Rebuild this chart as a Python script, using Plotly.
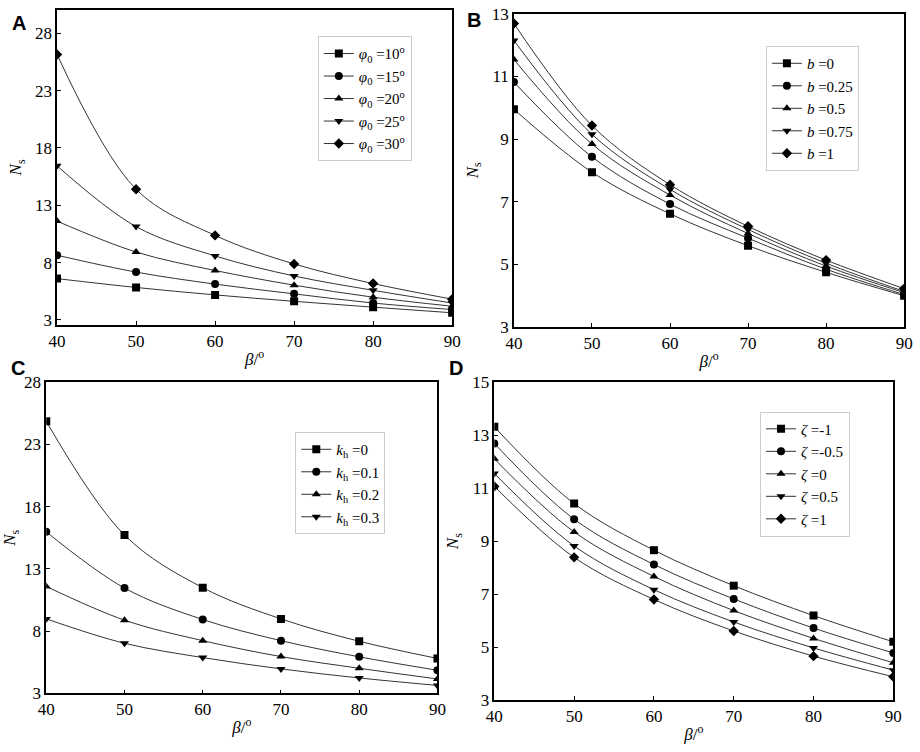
import plotly.graph_objects as go

beta = [40, 50, 60, 70, 80, 90]

# painel A - phi0
phi_labels = ["10", "15", "20", "25", "30"]
phi_10 = [6.60, 5.83, 5.18, 4.62, 4.11, 3.62]
phi_15 = [8.64, 7.17, 6.12, 5.27, 4.47, 3.90]
phi_20 = [11.62, 8.92, 7.31, 6.03, 4.98, 4.19]
phi_25 = [16.44, 11.14, 8.58, 6.83, 5.58, 4.47]
phi_30 = [26.16, 14.40, 10.37, 7.88, 6.17, 4.81]

# painel B - b
b_labels = ["0", "0.25", "0.5", "0.75", "1"]
b_0 = [9.95, 7.94, 6.61, 5.59, 4.74, 3.99]
b_025 = [10.82, 8.43, 6.92, 5.83, 4.84, 4.03]
b_05 = [11.54, 8.84, 7.21, 5.98, 4.94, 4.09]
b_075 = [12.15, 9.15, 7.39, 6.11, 5.03, 4.13]
b_1 = [12.69, 9.43, 7.54, 6.21, 5.13, 4.22]

# painel C - kh
kh_labels = ["0", "0.1", "0.2", "0.3"]
kh_0 = [24.87, 15.72, 11.49, 8.98, 7.18, 5.80]
kh_01 = [15.98, 11.46, 8.93, 7.23, 5.93, 4.85]
kh_02 = [11.59, 8.88, 7.23, 5.95, 5.01, 4.15]
kh_03 = [8.98, 7.02, 5.87, 4.96, 4.23, 3.63]

# painel D - zeta
zeta_labels = ["-1", "-0.5", "0", "0.5", "1"]
zeta_m1 = [13.32, 10.42, 8.66, 7.32, 6.19, 5.20]
zeta_m05 = [12.69, 9.83, 8.12, 6.82, 5.72, 4.78]
zeta_0 = [12.11, 9.35, 7.67, 6.38, 5.33, 4.41]
zeta_05 = [11.56, 8.82, 7.17, 5.95, 4.97, 4.13]
zeta_1 = [11.07, 8.39, 6.80, 5.61, 4.66, 3.88]

simbolos = ["square", "circle", "triangle-up", "triangle-down", "diamond"]
fonte = "Liberation Serif, Times New Roman, serif"

paineis = [
    ("x", "y", "legend", [phi_10, phi_15, phi_20, phi_25, phi_30],
     ["<i>φ</i><sub>0</sub> =%s<sup>o</sup>" % s for s in phi_labels]),
    ("x2", "y2", "legend2", [b_0, b_025, b_05, b_075, b_1],
     ["<i>b</i> =%s" % s for s in b_labels]),
    ("x3", "y3", "legend3", [kh_0, kh_01, kh_02, kh_03],
     ["<i>k</i><sub>h</sub> =%s" % s for s in kh_labels]),
    ("x4", "y4", "legend4", [zeta_m1, zeta_m05, zeta_0, zeta_05, zeta_1],
     ["<i>ζ</i> =%s" % s for s in zeta_labels]),
]

fig = go.Figure()
for xa, ya, leg, series, nomes in paineis:
    for i, (serie, nome) in enumerate(zip(series, nomes)):
        fig.add_trace(go.Scatter(
            x=beta, y=serie, name=nome, xaxis=xa, yaxis=ya, legend=leg,
            mode="lines+markers",
            line=dict(color="#333333", width=1, shape="spline"),
            marker=dict(symbol=simbolos[i], size=8, color="black"),
        ))

eixo = dict(
    showgrid=False, zeroline=False, showline=True, linecolor="black",
    linewidth=1.5, mirror=True, ticks="inside", ticklen=4, tickcolor="black",
    tickfont=dict(family=fonte, size=17, color="black"),
)
titulo_x = dict(text="<i>β</i>/<sup>o</sup>", font=dict(family=fonte, size=17, color="black"), standoff=3)
titulo_y = dict(text="<i>N</i><sub>s</sub>", font=dict(family=fonte, size=17, color="black"), standoff=9)

dominios = [
    ([49 / 920, 452 / 920], [1 - 324 / 752, 1 - 1 / 752]),
    ([515 / 920, 913 / 920], [1 - 326 / 752, 1 - 5 / 752]),
    ([38 / 920, 437 / 920], [1 - 702 / 752, 1 - 383 / 752]),
    ([495 / 920, 902 / 920], [1 - 709 / 752, 1 - 383 / 752]),
]
faixas_y = [[2.57, 30.04], [3, 13], [3, 28], [3, 15]]
ticks_y = [[3, 8, 13, 18, 23, 28], [3, 5, 7, 9, 11, 13],
           [3, 8, 13, 18, 23, 28], [3, 5, 7, 9, 11, 13, 15]]

layout = dict(
    width=920, height=752, margin=dict(l=0, r=0, t=0, b=0),
    plot_bgcolor="white", paper_bgcolor="white", showlegend=True,
)
for k in range(4):
    sx = "" if k == 0 else str(k + 1)
    layout["xaxis" + sx] = dict(
        eixo, domain=dominios[k][0], range=[40, 90], tickvals=[40, 50, 60, 70, 80, 90],
        anchor="y" + sx, title=titulo_x,
    )
    layout["yaxis" + sx] = dict(
        eixo, domain=dominios[k][1], range=faixas_y[k], tickvals=ticks_y[k],
        anchor="x" + sx, title=titulo_y,
    )

# caixas das legendas (pixels -> papel)
caixas = [(315, 28), (772, 38), (292, 434), (766, 413)]
for k, (px_, py_) in enumerate(caixas):
    nome = "legend" if k == 0 else "legend%d" % (k + 1)
    layout[nome] = dict(
        x=px_ / 920, y=1 - py_ / 752, xanchor="left", yanchor="top",
        bgcolor="white", bordercolor="#cccccc", borderwidth=1,
        font=dict(family=fonte, size=15, color="black"),
        itemwidth=30, tracegroupgap=0,
    )
fig.update_layout(**layout)

# letras dos paineis (centro em pixels)
letras = [("A", 10, 14), ("B", 474, 11), ("C", 9, 368), ("D", 456, 368)]
for letra, lx, ly in letras:
    fig.add_annotation(
        text="<b>%s</b>" % letra, x=lx / 920, y=1 - ly / 752, xref="paper", yref="paper",
        xanchor="center", yanchor="middle", showarrow=False,
        font=dict(family="Liberation Sans, Arial", size=20, color="black"),
    )

# tira a margem padrao do body para a figura ocupar a janela toda
fig.write_html("out.html", config={"displayModeBar": False},
               post_script="document.body.style.margin='0';")
